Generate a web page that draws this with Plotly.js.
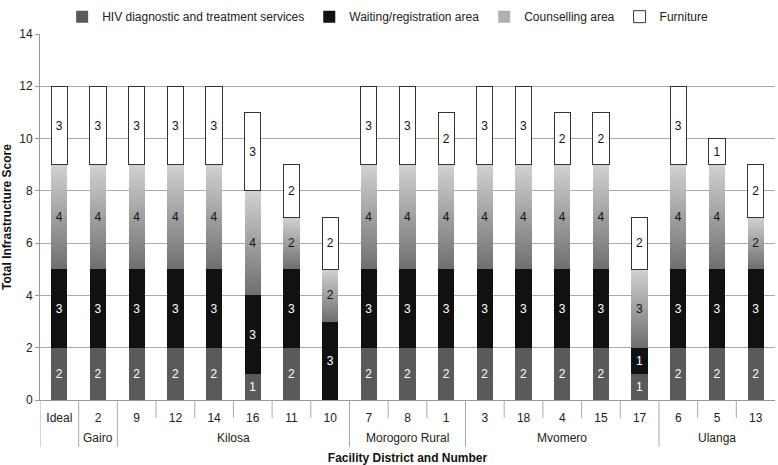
<!DOCTYPE html>
<html>
<head>
<meta charset="utf-8">
<script src="https://cdn.plot.ly/plotly-3.0.1.min.js"></script>
<style>html,body{margin:0;padding:0;background:#fff}#chart{width:778px;height:465px}</style>
</head>
<body>
<div id="chart"></div>
<script>
const districts = ["", "Gairo", "Kilosa", "Kilosa", "Kilosa", "Kilosa", "Kilosa", "Kilosa", "Morogoro Rural", "Morogoro Rural", "Morogoro Rural", "Mvomero", "Mvomero", "Mvomero", "Mvomero", "Mvomero", "Ulanga", "Ulanga", "Ulanga"];
const facilities = ["Ideal", "2", "9", "12", "14", "16", "11", "10", "7", "8", "1", "3", "18", "4", "15", "17", "6", "5", "13"];
const hivServices = [2, 2, 2, 2, 2, 1, 2, 0, 2, 2, 2, 2, 2, 2, 2, 1, 2, 2, 2];
const waitingArea = [3, 3, 3, 3, 3, 3, 3, 3, 3, 3, 3, 3, 3, 3, 3, 1, 3, 3, 3];
const counsellingArea = [4, 4, 4, 4, 4, 4, 2, 2, 4, 4, 4, 4, 4, 4, 4, 3, 4, 4, 2];
const furniture = [3, 3, 3, 3, 3, 3, 2, 2, 3, 3, 2, 3, 3, 2, 2, 2, 3, 1, 2];
const seriesNames = ["HIV diagnostic and treatment services", "Waiting/registration area", "Counselling area", "Furniture"];

const FONT = "Liberation Sans, Arial, sans-serif";

function mk(name, vals, color, lineColor, lineW, textColor) {
  return {
    type: "bar", name: name, x: facilities, y: vals,
    text: vals.map(v => v > 0 ? String(v) : ""),
    textposition: "inside", insidetextanchor: "middle", textangle: 0,
    constraintext: "none",
    textfont: {family: FONT, size: 12, color: textColor},
    marker: {color: color, line: {color: lineColor, width: lineW}},
    hoverinfo: "y+name"
  };
}

const data = [
  mk(seriesNames[0], hivServices, "#5a5a5a", "#5a5a5a", 0, "#ffffff"),
  mk(seriesNames[1], waitingArea, "#111111", "#111111", 0, "#ffffff"),
  mk(seriesNames[2], counsellingArea, "#b0b0b0", "#b0b0b0", 0, "#111111"),
  mk(seriesNames[3], furniture, "#ffffff", "#333333", 1, "#111111")
];

// axis structure: category boundary ticks and district dividers / labels
const plotH = 465 - 33 - 65;
const tickEnd = -18 / plotH;
const divEnd = -47 / plotH;
const shapes = [];
const annotations = [];
const lineStyle = {color: "#aaaaaa", width: 1};
for (let i = 0; i < facilities.length; i++) {
  const isDivider = i === 0 || districts[i] !== districts[i - 1];
  shapes.push({type: "line", xref: "x", yref: "paper", x0: i - 0.5, x1: i - 0.5,
               y0: 0, y1: isDivider ? divEnd : tickEnd, line: lineStyle, layer: "above"});
}
let start = 0;
for (let i = 1; i <= facilities.length; i++) {
  if (i === facilities.length || districts[i] !== districts[start]) {
    if (districts[start]) {
      annotations.push({xref: "x", yref: "paper", x: (start + i - 1) / 2, y: -38 / plotH,
                        text: districts[start], showarrow: false, yanchor: "middle",
                        font: {family: FONT, size: 12, color: "#222"}});
    }
    start = i;
  }
}

const layout = {
  width: 778, height: 465,
  margin: {l: 40, r: 3, t: 33, b: 65},
  barmode: "stack",
  bargap: 0.58,
  paper_bgcolor: "#fff", plot_bgcolor: "#fff",
  font: {family: FONT, size: 12, color: "#222"},
  showlegend: true,
  legend: {orientation: "h", x: 0.473, xanchor: "center", y: 1.005, yanchor: "bottom",
           font: {family: FONT, size: 12, color: "#222"}, itemwidth: 30, traceorder: "normal"},
  xaxis: {
    type: "category", categoryorder: "array", categoryarray: facilities,
    range: [-0.5, facilities.length - 0.5],
    showline: true, linecolor: "#999", linewidth: 1,
    ticks: "outside", ticklen: 7, tickcolor: "rgba(0,0,0,0)",
    tickfont: {family: FONT, size: 12, color: "#222"},
    title: {text: "Facility District and Number", font: {family: FONT, size: 12, color: "#111", weight: "bold"}, standoff: 30},
    showgrid: false
  },
  yaxis: {
    range: [0, 14], dtick: 2, tick0: 0,
    showgrid: true, gridcolor: "#aaa", gridwidth: 1,
    showline: true, linecolor: "#999", linewidth: 1,
    ticks: "outside", ticklen: 4, tickcolor: "#999",
    tickfont: {family: FONT, size: 12, color: "#222"},
    title: {text: "Total Infrastructure Score", font: {family: FONT, size: 12, color: "#111", weight: "bold"}, standoff: 8},
    zeroline: false
  },
  shapes: shapes,
  annotations: annotations
};

function applyGradient() {
  const svg = document.querySelector("#chart svg.main-svg");
  if (!svg) return;
  const ns = "http://www.w3.org/2000/svg";
  let defs = svg.querySelector("defs");
  if (!document.getElementById("counselGrad")) {
    const g = document.createElementNS(ns, "linearGradient");
    g.setAttribute("id", "counselGrad");
    g.setAttribute("x1", "0"); g.setAttribute("y1", "1");
    g.setAttribute("x2", "0"); g.setAttribute("y2", "0");
    [["0", "#6e6e6e"], ["1", "#d2d2d2"]].forEach(([o, c]) => {
      const s = document.createElementNS(ns, "stop");
      s.setAttribute("offset", o); s.setAttribute("stop-color", c);
      g.appendChild(s);
    });
    defs.appendChild(g);
  }
  const traces = document.querySelectorAll("#chart .barlayer .trace.bars");
  if (traces[2]) {
    traces[2].querySelectorAll("path").forEach(p => {
      p.style.fill = "url(#counselGrad)";
    });
  }
}

Plotly.newPlot("chart", data, layout, {displayModeBar: false, staticPlot: true}).then(gd => {
  applyGradient();
  gd.on("plotly_afterplot", applyGradient);
});
</script>
</body>
</html>
